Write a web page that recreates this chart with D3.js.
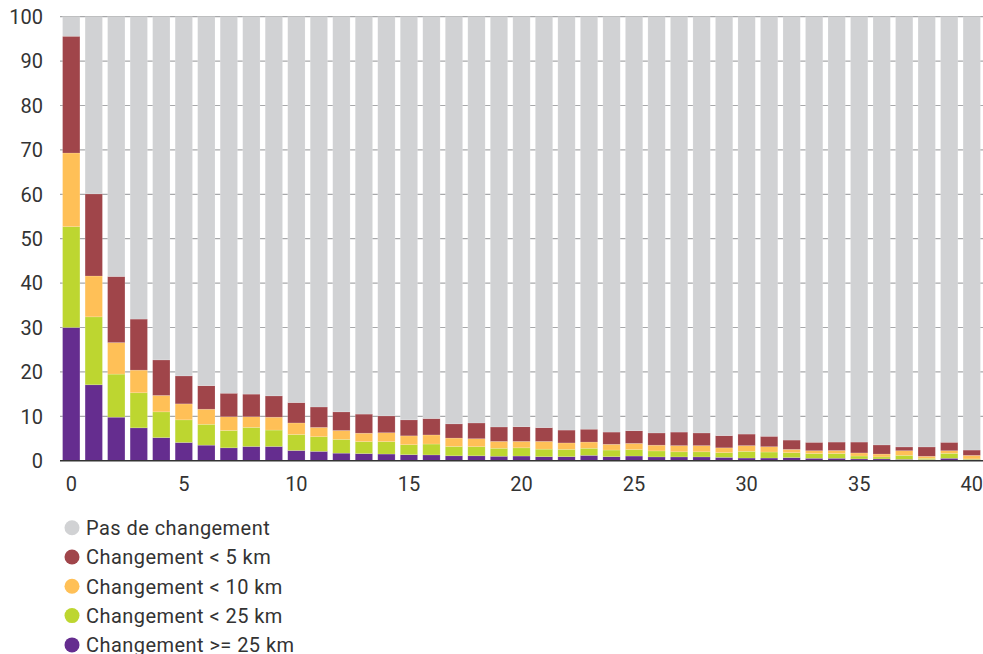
<!DOCTYPE html>
<html><head><meta charset="utf-8">
<script src="https://cdn.jsdelivr.net/npm/d3@7"></script>
<style>body{margin:0;background:#fff}svg{display:block}text{font-family:Roboto,"Noto Sans",sans-serif;fill:#333}</style>
</head><body><svg id="c" width="983" height="654"></svg>
<script>
const categories = d3.range(0, 41).map(String);
const seriesNames = ["Changement >= 25 km","Changement < 25 km","Changement < 10 km","Changement < 5 km","Pas de changement"];
const over25 = [30,17.1,9.8,7.4,5.2,4.1,3.5,2.9,3.2,3.2,2.3,2.1,1.7,1.6,1.5,1.35,1.3,1.1,1.1,1.0,1.05,0.9,0.9,1.2,0.9,1.05,0.85,0.85,0.85,0.75,0.6,0.6,0.7,0.55,0.55,0.4,0.4,0.3,0.25,0.55,0.25];
const under25 = [22.7,15.3,9.7,7.9,5.8,5.1,4.7,3.9,4.3,3.7,3.6,3.3,3.1,2.7,2.8,2.25,2.45,2.1,2.05,1.8,1.85,1.7,1.65,1.6,1.5,1.45,1.35,1.15,1.15,1.05,1.5,1.35,1.1,1.05,1.05,0.65,0.45,0.9,0.3,1.1,0.15];
const under10 = [16.6,9.2,7.1,5.1,3.7,3.6,3.4,3.1,2.4,2.9,2.6,2.1,2.0,1.9,2.0,2.0,2.05,1.9,1.8,1.55,1.45,1.75,1.45,1.4,1.3,1.4,1.3,1.4,1.4,1.1,1.3,1.2,0.75,0.65,0.7,0.7,0.65,1.05,0.45,0.6,0.8];
const under5 = [26.3,18.5,14.9,11.5,8.0,6.3,5.3,5.3,5.1,4.8,4.6,4.6,4.2,4.3,3.8,3.6,3.7,3.2,3.55,3.25,3.3,3.1,2.9,2.9,2.75,2.85,2.75,3.05,2.85,2.75,2.6,2.35,2.1,1.9,1.9,2.45,2.05,0.85,2.1,1.9,1.2];
const noChange = [4.4,39.9,58.5,68.1,77.3,80.9,83.1,84.8,85.0,85.4,86.9,87.9,89.0,89.5,89.9,90.8,90.5,91.7,91.5,92.4,92.35,92.55,93.1,92.9,93.55,93.25,93.75,93.55,93.75,94.35,94.0,94.5,95.35,95.85,95.8,95.8,96.45,96.9,96.9,95.85,97.6];
const yTicks = [0,10,20,30,40,50,60,70,80,90,100];
const xTicks = ["0","5","10","15","20","25","30","35","40"];
const colors = ["#652d8f","#bdd630","#ffc057","#a0454a","#d1d2d4"];
const legendOrder = [4,3,2,1,0];

const series = [over25, under25, under10, under5, noChange];
const keys = ["s0","s1","s2","s3","s4"];
const table = categories.map((c,i)=>{const o={cat:c}; keys.forEach((k,j)=>o[k]=series[j][i]); return o;});
const stacked = d3.stack().keys(keys)(table);

const svg = d3.select("#c");
const x = d3.scaleBand().domain(categories).range([60,983]).paddingInner(0.23).paddingOuter(0.115);
const y = d3.scaleLinear().domain([0,100]).range([460.7,16.7]);

// grid
svg.append("g").selectAll("line").data(yTicks.filter(d=>d>0)).join("line")
  .attr("x1",60).attr("x2",983).attr("y1",d=>y(d)).attr("y2",d=>y(d))
  .attr("stroke","#a7a8aa").attr("stroke-width",1.2);

svg.append("g").selectAll("g").data(stacked).join("g")
  .attr("fill",(d,i)=>colors[i])
  .selectAll("rect").data(d=>d).join("rect")
  .attr("x",d=>x(d.data.cat)).attr("width",x.bandwidth())
  .attr("y",d=>y(d[1])).attr("height",d=>y(d[0])-y(d[1]))
  .attr("stroke","#ffffff").attr("stroke-opacity",0.25).attr("stroke-width",0.6);

// baseline
svg.append("line").attr("x1",60).attr("x2",983).attr("y1",y(0)).attr("y2",y(0))
  .attr("stroke","#333").attr("stroke-width",1.5);

// y labels
svg.append("g").selectAll("text").data(yTicks).join("text")
  .attr("x",43).attr("y",d=>y(d)).attr("dy","0.36em").attr("text-anchor","end")
  .attr("font-size",20).text(d=>d);

// x labels
svg.append("g").selectAll("text").data(xTicks).join("text")
  .attr("x",d=>x(d)+x.bandwidth()/2).attr("y",491).attr("text-anchor","middle")
  .attr("font-size",20).text(d=>d);

// legend
const lg = svg.append("g").selectAll("g").data(legendOrder).join("g")
  .attr("transform",(d,i)=>`translate(72,${527.7+i*29.3})`);
lg.append("circle").attr("r",7.5).attr("fill",d=>colors[d]);
lg.append("text").attr("x",14).attr("dy","0.36em").attr("font-size",20)
  .attr("letter-spacing","0.45px").text(d=>seriesNames[d]);
</script></body></html>
